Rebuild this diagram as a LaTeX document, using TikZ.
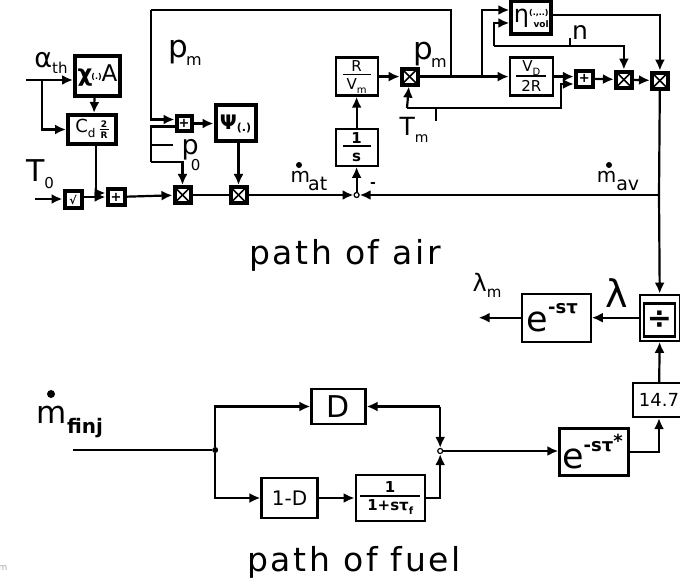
\documentclass[tikz,border=0pt]{standalone}
\usepackage{fontspec}
\setmainfont{DejaVu Sans}
\newfontfamily\captionfont[LetterSpace=8]{DejaVu Sans}
\usetikzlibrary{arrows.meta, positioning}
\tikzset{
    block/.style={rectangle, draw, line width=2.2pt, align=center, inner sep=0pt},
    heavy/.style={block, line width=4pt},
    plusbox/.style={heavy, minimum width=17pt, minimum height=16pt, font=\bfseries\fontsize{13}{13}\selectfont},
    crossbox/.style={heavy, minimum size=16pt, path picture={
        \draw [line width=1.6pt] (path picture bounding box.north west) -- (path picture bounding box.south east);
        \draw [line width=1.6pt] (path picture bounding box.north east) -- (path picture bounding box.south west);}},
    sumdot/.style={circle, draw, line width=1.2pt, fill=white, minimum size=5pt, inner sep=0pt},
    tapdot/.style={circle, fill, minimum size=6pt, inner sep=0pt},
    line/.style={draw, line width=2.2pt, -{Latex[length=11pt,width=10pt]}},
    wire/.style={draw, line width=2.2pt},
    tag/.style={inner sep=0pt, font=\fontsize{25}{25}\selectfont},
    head/.style={inner sep=0pt, font=\captionfont\fontsize{33}{33}\selectfont}
}
\newcommand{\lowtext}[2][15]{\raisebox{-.25em}{\fontsize{#1}{#1}\selectfont #2}}
\newcommand{\ratio}[3]{{\def\arraystretch{0}\begin{tabular}{@{}c@{}}\makebox[#1]{\rule[-.15em]{0pt}{.9em}#2}\\\noalign{\hrule height 1.6pt}\rule[-.1em]{0pt}{1.05em}#3\end{tabular}}}

\begin{document}
\begin{tikzpicture}[x=1pt, y=-1pt, node distance=20pt and 20pt]
    \useasboundingbox (0,0) rectangle (680,580);

    % Throttle side
    \node [heavy, minimum width=45pt, minimum height=40pt, font=\fontsize{23}{23}\selectfont] (chiBox) at (97.5,76) {\textbf{χ}\kern-1pt\raisebox{.1em}{\bfseries\fontsize{8}{8}\selectfont(.)}A};
    \node [heavy, below=15pt of chiBox, xshift=-5.5pt, minimum width=48pt, minimum height=29pt, font=\fontsize{18}{18}\selectfont] (cdBox) {C\lowtext[12]{d}\hspace{4pt}\bfseries\fontsize{9}{9}\selectfont\ratio{9pt}{2}{R}};
    \node [heavy, minimum size=17pt, font=\bfseries\fontsize{11}{11}\selectfont] (tempBox) at (73,200) {√};
    \node [plusbox, right=22pt of tempBox, yshift=3pt] (plusOne) {+};
    \node [crossbox, right=46pt of plusOne, yshift=2pt] (crossOne) {};
    \node [crossbox, right=36pt of crossOne] (crossTwo) {};
    \node [plusbox, above=52pt of crossOne, xshift=1.5pt, minimum width=15pt, minimum height=15pt] (plusTwo) {+};
    \node [heavy, right=20pt of plusTwo, minimum width=40pt, minimum height=36pt, font=\bfseries\fontsize{20}{20}\selectfont] (psiBox) {Ψ\raisebox{-.1em}{\fontsize{11}{11}\selectfont(.)}};
    \coordinate (chiIn) at (26,80);
    \coordinate (chiTap) at (42,80);
    \coordinate (tempIn) at (35,199);
    \coordinate (topCorner) at (151,10);
    \coordinate (zeroCorner) at (151,162);
    \coordinate (zeroTick) at (173,145);
    \draw [line] (chiIn) -- (chiBox.west |- chiIn);
    \draw [line] (chiTap) |- (cdBox.west);
    \draw [line] ([xshift=-3pt]chiBox.south) -- ([xshift=2pt]cdBox.north);
    \draw [line] ([xshift=4pt]cdBox.south) |- ([yshift=4pt]plusOne.west);
    \draw [line] (tempIn) -- (tempIn -| tempBox.west);
    \draw [line] (tempBox.east |- plusOne) -- (plusOne.west);
    \draw [line] (plusOne) -- (crossOne);
    \draw [wire] (crossOne) -- (crossTwo);
    \draw [line] (plusTwo) -- (psiBox);
    \draw [line] (crossTwo |- psiBox.south) -- (crossTwo);

    % Intake manifold
    \node [sumdot, right=105pt of crossTwo] (sumAir) {};
    \node [block, above=25pt of sumAir, minimum width=42pt, minimum height=37pt, font=\bfseries\fontsize{15}{15}\selectfont] (intBox) {\ratio{28pt}{1}{s}};
    \node [block, above=31pt of intBox, minimum width=42pt, minimum height=38pt, font=\fontsize{15}{15}\selectfont] (rvBox) {\ratio{28pt}{R}{V\lowtext[10]{m}}};
    \node [crossbox, right=21pt of rvBox] (crossThree) {};
    \node [block, right=89pt of crossThree, minimum width=43pt, minimum height=38pt, font=\fontsize{15}{15}\selectfont] (vdBox) {\ratio{30pt}{V\lowtext[10]{D}}{2R}};
    \node [heavy, above=20pt of vdBox, minimum width=40pt, minimum height=33pt, font=\fontsize{24}{24}\selectfont] (etaBox) {η\raisebox{.3em}{\bfseries\fontsize{8}{8}\selectfont(.,..)}\llap{\raisebox{-.2em}{\bfseries\fontsize{9}{9}\selectfont vol}}};
    \node [plusbox, right=20pt of vdBox, yshift=-2pt] (plusThree) {+};
    \node [crossbox, right=19pt of plusThree, yshift=-1pt] (crossFour) {};
    \node [crossbox, right=16pt of crossFour, yshift=-1pt] (crossFive) {};
    \coordinate [right=31pt of crossThree] (pmTap);
    \coordinate (loopTap) at (482,77);
    \coordinate (etaLoop) at (494,46);
    \coordinate (nTap) at (570,46);
    \coordinate (nTick) at (570,38);
    \coordinate (tmCorner) at (407,108);
    \coordinate (tmRise) at (561,84);
    \coordinate (tmTap) at (436,108);
    \coordinate (tmTick) at (436,121);
    \coordinate (avTap) at (659,195);
    \draw [wire] (crossThree) -- (pmTap);
    \draw [wire] (pmTap) |- (topCorner);
    \draw [line] (topCorner) |- ([yshift=4pt]plusTwo.west);
    \draw [line] (pmTap) -- (vdBox);
    \draw [line] (loopTap) |- (etaBox.west |- 0,10);
    \draw [line] (etaLoop) -- (494,23) -- (etaBox.west |- 0,23);
    \draw [line] (etaLoop) -| (crossFour);
    \draw [wire] (nTap) -- (nTick);
    \draw [line] (etaBox.east |- 0,15) -| (crossFive);
    \draw [line] (vdBox) -- (plusThree.west |- vdBox);
    \draw [line] (tmCorner) -- (crossThree);
    \draw [line] (tmCorner) -| (tmRise) -- (plusThree.west |- tmRise);
    \draw [wire] (tmTap) -- (tmTick);
    \draw [line] (plusThree) -- (crossFour);
    \draw [line] (crossFour) -- (crossFive);
    \draw [line] (rvBox) -- (crossThree);
    \draw [line] (intBox) -- (rvBox);
    \draw [line] (sumAir) -- (intBox);
    \draw [line] (crossTwo) -- (sumAir);
    \draw [line] (avTap) -- (sumAir);
    \draw [wire] (crossFive) -- (avTap);

    % Pressure ratio inputs
    \draw [wire] (zeroTick) -- (zeroTick -| zeroCorner);
    \draw [wire] ([yshift=-3pt]plusTwo.west) -| (zeroCorner);
    \draw [line] (zeroCorner) -| (crossOne);

    % Ratio and delays
    \node [block, below=203pt of crossFive, minimum width=40pt, minimum height=46pt] (divBox) {};
    \node [block, minimum width=31pt, minimum height=33pt, font=\bfseries\fontsize{30}{30}\selectfont] (divInner) at (659.5,320) {÷};
    \node [block, left=47pt of divBox, minimum width=69pt, minimum height=48pt, font=\fontsize{35}{35}\selectfont] (airDelay) {e\raisebox{.5em}{\bfseries\fontsize{18}{18}\selectfont -sτ}\hspace{8pt}};
    \node [block, minimum width=52pt, minimum height=34pt, font=\fontsize{18}{18}\selectfont] (gainBox) at (659,400) {14.7};
    \coordinate [left=42pt of airDelay] (lamOut);
    \draw [line] (avTap) -- (divBox);
    \draw [line] (divBox) -- (airDelay);
    \draw [line] (airDelay) -- (lamOut);
    \draw [line] (gainBox) -- (divBox);

    % Fuel path
    \coordinate (fuelIn) at (73,450);
    \node [tapdot, right=139pt of fuelIn] (fuelTap) {};
    \node [block, right=92pt of fuelTap, yshift=43.5pt, minimum width=54pt, minimum height=35pt, font=\fontsize{30}{30}\selectfont] (dBox) {D};
    \node [block, right=42pt of fuelTap, yshift=-48pt, minimum width=56pt, minimum height=40pt, font=\fontsize{20}{20}\selectfont] (restBox) {1-D};
    \node [block, right=36pt of restBox, minimum width=69pt, minimum height=46pt, font=\bfseries\fontsize{15}{15}\selectfont] (lagBox) {\ratio{60pt}{1}{1+sτ\lowtext[10]{f}}};
    \node [sumdot, right=70.5pt of dBox, yshift=-44.5pt] (sumFuel) {};
    \node [block, right=115pt of sumFuel, yshift=-1pt, minimum width=69pt, minimum height=47pt, font=\fontsize{35}{35}\selectfont] (fuelDelay) {e\raisebox{.5em}{\bfseries\fontsize{18}{18}\selectfont -sτ\raisebox{.2em}{*}}\hspace{3pt}};
    \draw [wire] (fuelIn) -- (fuelTap);
    \draw [line] (fuelTap) |- (dBox);
    \draw [line] (fuelTap) |- (restBox);
    \draw [line] (restBox) -- (lagBox);
    \draw [line] (sumFuel |- dBox.east) -- (dBox.east);
    \draw [line] (sumFuel |- dBox.east) -- (sumFuel);
    \draw [line] (lagBox.east) -| (sumFuel);
    \draw [line] (sumFuel) -- (sumFuel -| fuelDelay.west);
    \draw [line] (fuelDelay.east) -| (gainBox.south);

    % Labels
    \node [tag, font=\fontsize{27}{27}\selectfont] (alphaLabel) at (51,63) {α\lowtext[15]{th}};
    \node [tag, font=\fontsize{31}{31}\selectfont] (pmLabel) at (185,53) {p\kern-2pt\lowtext[16]{m}};
    \node [tag, font=\fontsize{30}{30}\selectfont] (tempLabel) at (40,174) {T\lowtext[15]{0}};
    \node [tag, font=\fontsize{27}{27}\selectfont] (zeroLabel) at (191,155) {p\kern-8pt\raisebox{-.6em}{\fontsize{15}{15}\selectfont 0}};
    \node [tag, font=\fontsize{20}{20}\selectfont] (matLabel) at (309,181) {m\kern-2pt\raisebox{-.4em}{\fontsize{19}{19}\selectfont at}};
    \node [tapdot] (matDot) at (299,165) {};
    \node [tag, font=\bfseries\fontsize{14}{14}\selectfont] (minusLabel) at (373,185) {-};
    \node [tag, font=\fontsize{31}{31}\selectfont] (pmTwoLabel) at (430,55) {p\kern-2pt\lowtext[16]{m}};
    \node [tag] (tmLabel) at (414,130) {T\lowtext[14]{m}};
    \node [tag] (nLabel) at (580,33) {n};
    \node [tag, font=\fontsize{20}{20}\selectfont] (mavLabel) at (618,181) {m\raisebox{-.4em}{\fontsize{19}{19}\selectfont av}};
    \node [tapdot] (mavDot) at (609,165) {};
    \node [tag, font=\fontsize{24}{24}\selectfont] (lamTwoLabel) at (487,285) {λ\lowtext[15]{m}};
    \node [tag, font=\fontsize{38}{38}\selectfont] (lamLabel) at (617,293) {λ};
    \node [tag, font=\fontsize{31}{31}\selectfont] (finjLabel) at (70,422) {m\raisebox{-.3em}{\bfseries\fontsize{20}{20}\selectfont finj}};
    \node [tapdot, minimum size=8pt] (finjDot) at (51,394) {};
    \node [head] (airHead) at (345,255) {path of air};
    \node [head] (fuelHead) at (354,562) {path of fuel};
    \node [tag, font=\fontsize{9}{9}\selectfont, text=gray!70] (cornerMark) at (3,568) {m};

\end{tikzpicture}
\end{document}
